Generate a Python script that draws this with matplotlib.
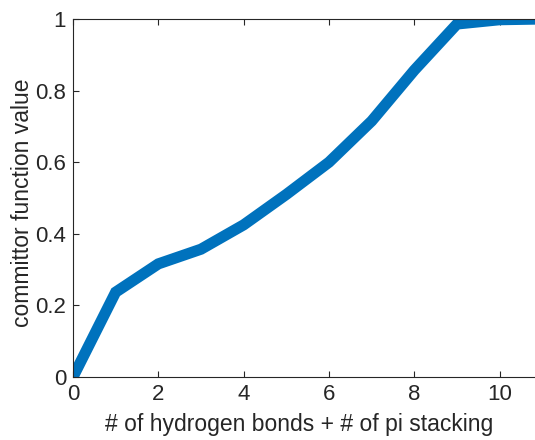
import numpy as np
import matplotlib
matplotlib.use('Agg')
import matplotlib.pyplot as plt

# committor value vs. number of contacts
n_contacts = [0, 1, 2, 3, 4, 5, 6, 7, 8, 9, 10, 11]
committor = [0.0, 0.237, 0.316, 0.357, 0.425, 0.51, 0.60, 0.715, 0.857, 0.986, 0.998, 1.0]

plt.rcParams['font.family'] = ['Liberation Sans', 'DejaVu Sans']

fig = plt.figure(figsize=(5.35, 4.4), dpi=100)
# axes run past the right edge of the figure, as in the original crop
ax = fig.add_axes([73/535, 1 - 377/440, (585 - 73)/535, (377 - 19)/440])

ax.plot(n_contacts, committor, color='#0072BD', linewidth=8, solid_joinstyle='miter')

ax.set_xlim(0, 12)
ax.set_ylim(0, 1)
ax.set_xticks([0, 2, 4, 6, 8, 10])
ax.set_yticks([0, 0.2, 0.4, 0.6, 0.8, 1])
ax.set_yticklabels(['0', '0.2', '0.4', '0.6', '0.8', '1'])
ax.tick_params(direction='in', length=4, width=0.8, colors='#262626',
               labelsize=16, top=True, right=True, labelcolor='#262626', pad=5)
for s in ax.spines.values():
    s.set_color('#262626')
    s.set_linewidth(0.8)

ax.set_xlabel('# of hydrogen bonds + # of pi stacking', fontsize=16.5, color='#262626', va='center')
ax.set_ylabel('committor function value', fontsize=16.5, color='#262626', va='center')
ax.xaxis.set_label_coords(0.441, -0.134)
ax.yaxis.set_label_coords(-0.098, 0.486)

fig.savefig('out.png', dpi=100)
